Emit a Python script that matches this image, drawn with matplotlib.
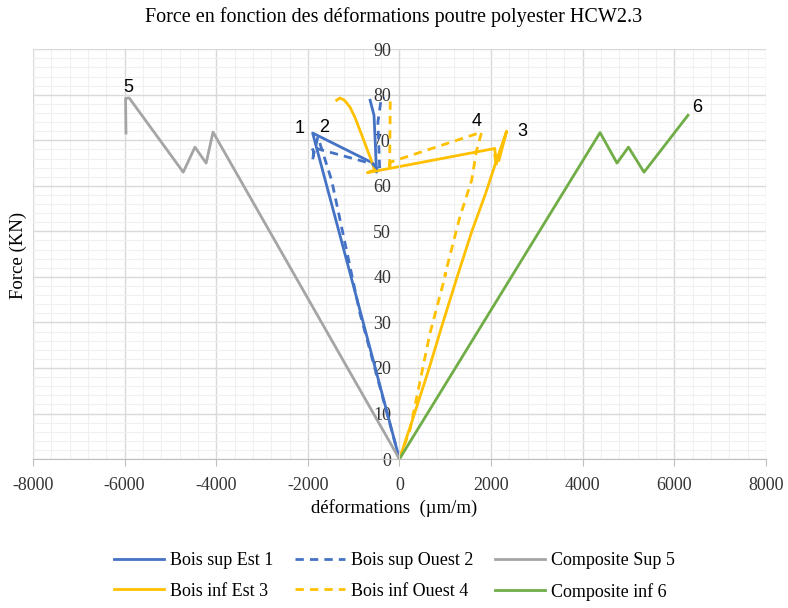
import numpy as np
import matplotlib.pyplot as plt
from matplotlib.ticker import MultipleLocator

plt.rcParams["axes.unicode_minus"] = False

# Strain (µm/m) and force (kN)
sup_est_1_x = [0, -950, -1895, -580, -500, -555, -640]
sup_est_1_y = [0, 36, 71.6, 65.0, 63.0, 75.5, 78.8]

sup_ouest_2_x = [0, -862, -1480, -1780, -1850, -1900, -1870, -1920, -580, -430, -470, -400, -320]
sup_ouest_2_y = [0, 32, 61.2, 70.7, 68.0, 65.5, 67.5, 68.5, 64.8, 63.2, 74.0, 79.0, 79.3]

comp_sup_5_x = [0, -4070, -4220, -4465, -4720, -5900, -5980, -5970]
comp_sup_5_y = [0, 71.8, 65.0, 68.5, 63.0, 79.3, 79.2, 71.6]

inf_est_3_x = [0, 330, 650, 950, 1260, 1580, 1870, 2100, 2340, 2170, 2080, 2120, 2080, -700, -540,
               -644, -760, -862, -970, -1080, -1200, -1300, -1370]
inf_est_3_y = [0, 10, 20, 30, 40, 50, 58, 65, 72, 65.5, 66.8, 64.8, 68.2, 62.9, 63.5,
               66.4, 69.5, 72.2, 75.0, 77.3, 78.8, 79.3, 78.8]

inf_ouest_4_x = [0, 230, 666, 980, 1010, 993, 1320, 1576, 1685, 1794, -200, -215, -200, -230]
inf_ouest_4_y = [0, 6.4, 27.6, 39.5, 40.8, 40.4, 53.2, 61.2, 67.8, 71.8, 65.2, 63.5, 78.8, 79.0]

comp_inf_6_x = [0, 4380, 4750, 5000, 5340, 6300]
comp_inf_6_y = [0, 71.7, 65.0, 68.5, 63.0, 75.5]

# Number tags written next to each curve
tag_text = ["1", "2", "3", "4", "5", "6"]
tag_x = [-2172, -1648, 2674, 1692, -5927, 6494]
tag_y = [72.6, 72.9, 72.0, 74.2, 81.6, 77.3]

blue = "#4472C4"
yellow = "#FFC000"
grey = "#A5A5A5"
green = "#70AD47"
dash = (0, (3, 2.2))

serif = "Liberation Serif"

fig = plt.figure(figsize=(7.88, 6.08), dpi=100)
ax = fig.add_axes([0.0419, 0.245, 0.930, 0.674])

# Series (handles kept in column-wise order for the 3-column legend)
h1, = ax.plot(sup_est_1_x, sup_est_1_y, color=blue, lw=2, label="Bois sup Est 1")
h3, = ax.plot(inf_est_3_x, inf_est_3_y, color=yellow, lw=2, label="Bois inf Est 3")
h2, = ax.plot(sup_ouest_2_x, sup_ouest_2_y, color=blue, lw=2, ls=dash, label="Bois sup Ouest 2")
h4, = ax.plot(inf_ouest_4_x, inf_ouest_4_y, color=yellow, lw=2, ls=dash, label="Bois inf Ouest 4")
h5, = ax.plot(comp_sup_5_x, comp_sup_5_y, color=grey, lw=2, label="Composite Sup 5")
h6, = ax.plot(comp_inf_6_x, comp_inf_6_y, color=green, lw=2, label="Composite inf 6")

for t, x, y in zip(tag_text, tag_x, tag_y):
    ax.text(x, y, t, fontsize=13, family="Liberation Sans", ha="center", va="center")

# Axes limits, ticks and grid
ax.set_xlim(-8000, 8000)
ax.set_ylim(0, 90)
ax.xaxis.set_major_locator(MultipleLocator(2000))
ax.xaxis.set_minor_locator(MultipleLocator(400))
ax.yaxis.set_major_locator(MultipleLocator(10))
ax.yaxis.set_minor_locator(MultipleLocator(2))
ax.grid(which="major", color="#D9D9D9", lw=1)
ax.grid(which="minor", color="#F0F0F0", lw=0.8)
ax.set_axisbelow(True)

# Vertical axis crosses at x = 0
ax.spines["left"].set_position(("data", 0))
ax.spines["left"].set_color("#D9D9D9")
for s in ["top", "right"]:
    ax.spines[s].set_visible(False)
ax.spines["bottom"].set_color("#BFBFBF")
ax.tick_params(axis="x", which="major", length=5, color="#BFBFBF", pad=8)
ax.tick_params(axis="x", which="minor", length=0)
ax.tick_params(axis="y", which="both", length=0, pad=6)
for lab in ax.get_xticklabels() + ax.get_yticklabels():
    lab.set_family(serif)
    lab.set_fontsize(13)
    lab.set_color("#333333")

fig.text(0.5, 0.972, "Force en fonction des déformations poutre polyester HCW2.3",
         ha="center", va="center", fontsize=14.5, family=serif)
fig.text(0.5, 0.164, "déformations  (µm/m)", ha="center", va="center",
         fontsize=13.5, family=serif)
fig.text(0.023, 0.58, "Force (KN)", ha="center", va="center", rotation=90,
         fontsize=13.5, family=serif)

fig.legend(handles=[h1, h3, h2, h4, h5, h6], ncol=3, loc="center",
           bbox_to_anchor=(0.5, 0.052), frameon=False,
           prop={"family": serif, "size": 13}, handlelength=2.8,
           handletextpad=0.3, columnspacing=1.2, labelspacing=0.75)

plt.savefig("out.png", dpi=100)
